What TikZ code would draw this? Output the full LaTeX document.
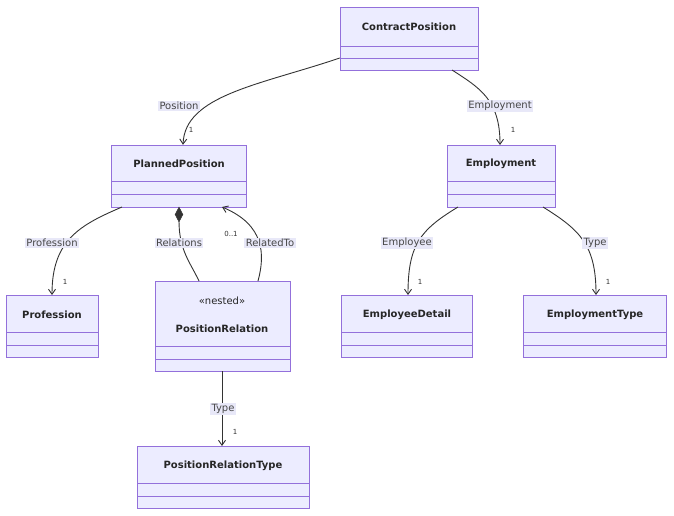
\documentclass[tikz,border=0pt]{standalone}
\usepackage{fontspec}
\setmainfont{DejaVu Sans}
\usetikzlibrary{arrows.meta,shapes.geometric}
\definecolor{cfill}{HTML}{ECECFF}
\definecolor{cline}{HTML}{9370DB}
\definecolor{lbl}{HTML}{E8E8F8}
\definecolor{edge}{HTML}{333333}
\begin{document}
\begin{tikzpicture}[x=1pt,y=-1pt,
  cls/.style={draw=cline,fill=cfill,line width=0.9pt},
  ttl/.style={font=\bfseries\fontsize{10}{12}\selectfont,text=black!85},
  el/.style={fill=lbl,font=\fontsize{10}{12}\selectfont,text=edge!90,inner sep=1.5pt},
  mult/.style={font=\fontsize{7}{8}\selectfont,text=edge},
  conn/.style={draw=edge,line width=0.9pt},
  arr/.style={conn,-{Straight Barb[length=5pt,width=7pt]}}]
\useasboundingbox (0,0) rectangle (674,516);
\newcommand{\umlbox}[7]{% name,x1,y1,x2,y2,l1,l2
  \draw[cls] (#2,#3) rectangle (#4,#5);
  \draw[cline,line width=0.9pt] (#2,#6) -- (#4,#6) (#2,#7) -- (#4,#7);
  \node[inner sep=0pt] (#1) at ({(#2+#4)/2},{(#3+#5)/2}) [minimum width={#4-#2},minimum height={#5-#3}] {};}
\umlbox{cp}{340}{7}{478}{70}{46}{58}
\node[ttl] (cpt) at (409,27) {ContractPosition};
\umlbox{pp}{111}{145}{246}{207}{181}{194}
\node[ttl] (ppt) at (179,164) {PlannedPosition};
\umlbox{em}{447}{145}{555}{207}{181}{194}
\node[ttl] (emt) at (501,164) {Employment};
\umlbox{pr}{6}{295}{98}{357}{332}{345}
\node[ttl] (prt) at (52,315) {Profession};
\umlbox{rel}{155}{281}{290}{371}{346}{359}
\node[font=\fontsize{10}{12}\selectfont,text=black!85] (relst) at (222,301) {«nested»};
\node[ttl] (relt) at (222,329) {PositionRelation};
\umlbox{ed}{341}{295}{472}{357}{332}{345}
\node[ttl] (edt) at (407,315) {EmployeeDetail};
\umlbox{et}{523}{295}{666}{357}{332}{345}
\node[ttl] (ett) at (595,315) {EmploymentType};
\umlbox{prt2}{137}{446}{309}{508}{483}{496}
\node[ttl] (prtt) at (223,466) {PositionRelationType};
% edges
\draw[arr] (cp.west |- 0,58) .. controls (260,85) and (185,95) .. (pp.north -| 183,0);
\node[el] (l1) at (179,106) {Position};
\node[mult] (m1) at (191,130) {1};
\draw[arr] (452,70) .. controls (480,88) and (500,100) .. (500,145);
\node[el] (l2) at (500,106) {Employment};
\node[mult] (m2) at (513,130) {1};
\draw[arr] (122,207) .. controls (80,225) and (52,240) .. (52,295);
\node[el] (l3) at (52,243) {Profession};
\node[mult] (m3) at (65,282) {1};
\draw[conn] (199,281) .. controls (190,262) and (179,250) .. (179,221);
\node[draw=edge,fill=edge,diamond,minimum width=8pt,minimum height=15pt,inner sep=0pt] (dia) at (179,214.5) {};
\node[el] (l4) at (179,243) {Relations};
\draw[arr] (258,281) .. controls (265,255) and (265,225) .. (222,207);
\node[el] (l5) at (270,243) {RelatedTo};
\node[mult] (m5) at (231,234) {0..1};
\draw[arr] (458,207) .. controls (420,230) and (408,245) .. (408,295);
\node[el] (l6) at (407,243) {Employee};
\node[mult] (m6) at (420,282) {1};
\draw[arr] (543,207) .. controls (580,230) and (596,245) .. (596,295);
\node[el] (l7) at (595,243) {Type};
\node[mult] (m7) at (608,282) {1};
\draw[arr] (222,371) -- (222,446);
\node[el] (l8) at (223,409) {Type};
\node[mult] (m8) at (235,432) {1};
\end{tikzpicture}
\end{document}
